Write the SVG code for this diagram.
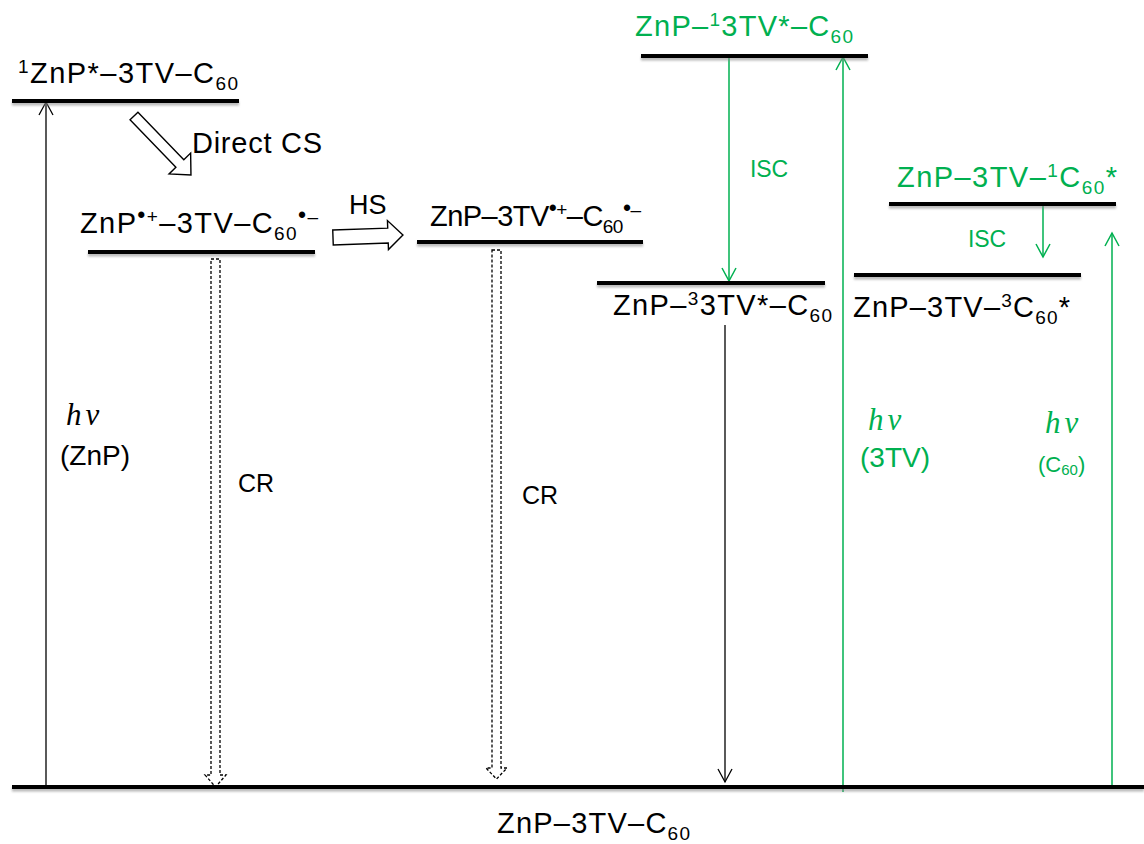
<svg xmlns="http://www.w3.org/2000/svg" width="1144" height="844" viewBox="0 0 1144 844">
<style>
  text { font-family: "Liberation Sans", Arial, sans-serif; fill: #000; }
  .lbl { font-size: 29px; }
  .g { fill: #00b050; }
  .sm { font-size: 19px; }
  .bul { font-size: 23px; }
  .hv { font-family: "Liberation Serif", "Times New Roman", serif; font-style: italic; font-size: 31px; letter-spacing: 4px; }
  .lvl { stroke: #000; stroke-width: 4; fill: none; filter: url(#sh); }
  .thin { stroke: #000; stroke-width: 1.3; fill: none; }
  .gl { stroke: #00b050; stroke-width: 1.5; fill: none; }
  .hollow { fill: #fff; stroke: #000; stroke-width: 1.4; }
  .dash { fill: none; stroke: #000; stroke-width: 1.3; stroke-dasharray: 3 2; }
</style>
<defs>
  <filter id="sh" filterUnits="userSpaceOnUse" x="0" y="0" width="1144" height="844">
    <feDropShadow dx="0" dy="2.5" stdDeviation="1.2" flood-color="#888" flood-opacity="0.6"/>
  </filter>
  <marker id="ab" markerUnits="userSpaceOnUse" markerWidth="20" markerHeight="20" viewBox="-14 -10 16 20" refX="0" refY="0" orient="auto">
    <path d="M-13,-7 L0,0 L-13,7" fill="none" stroke="#000" stroke-width="1.3"/>
  </marker>
  <marker id="ag" markerUnits="userSpaceOnUse" markerWidth="20" markerHeight="20" viewBox="-14 -10 16 20" refX="0" refY="0" orient="auto">
    <path d="M-13,-7 L0,0 L-13,7" fill="none" stroke="#00b050" stroke-width="1.5"/>
  </marker>
</defs>
<rect width="1144" height="844" fill="#fff"/>

<g id="connectors">
  <line class="thin" x1="46" y1="787" x2="46" y2="102" marker-end="url(#ab)"/>
  <g id="direct-cs-arrow" transform="translate(134,116) rotate(46)">
    <polygon class="hollow" points="0,-5.5 66,-5.5 66,-15 82,0 66,15 66,5.5 0,5.5"/>
  </g>
  <g id="hs-arrow" transform="translate(333,237.5) rotate(-2)">
    <polygon class="hollow" points="0,-7.5 55,-7.5 55,-15 70,0 55,14 55,7.5 0,7.5"/>
  </g>
  <path class="dash" d="M211,259 L220,259 L220,775 L226,775 L215.5,787 L205,775 L211,775 Z"/>
  <path class="dash" d="M492,250 L501,250 L501,768 L507,768 L496.5,779 L486,768 L492,768 Z"/>
  <line class="gl" x1="729" y1="56" x2="729" y2="281" marker-end="url(#ag)"/>
  <line class="thin" x1="725" y1="325" x2="725" y2="782" marker-end="url(#ab)"/>
  <line class="gl" x1="843" y1="792" x2="843" y2="57" marker-end="url(#ag)"/>
  <line class="gl" x1="1043" y1="204" x2="1043" y2="257" marker-end="url(#ag)"/>
  <line class="gl" x1="1112" y1="788" x2="1112" y2="233" marker-end="url(#ag)"/>
</g>

<g id="ground">
  <line class="lvl" x1="12" y1="787" x2="1144" y2="787"/>
  <text class="lbl" x="497" y="833" textLength="193">ZnP–3TV–C<tspan class="sm" dy="7">60</tspan></text>
</g>

<g id="n-1ZnP">
  <line class="lvl" x1="12" y1="101" x2="239" y2="101"/>
  <text class="lbl" x="18" y="83" textLength="220"><tspan class="sm" dy="-10">1</tspan><tspan dy="10">ZnP*–3TV–C</tspan><tspan class="sm" dy="7">60</tspan></text>
</g>

<g id="direct-cs-label">
  <text class="lbl" x="192" y="153" textLength="130">Direct CS</text>
</g>

<g id="n-cs1">
  <line class="lvl" x1="88" y1="252" x2="315" y2="252"/>
  <text class="lbl" x="80" y="233" textLength="238">ZnP<tspan class="bul" dy="-10">•</tspan><tspan class="sm">+</tspan><tspan dy="10">–3TV–C</tspan><tspan class="sm" dy="7">60</tspan><tspan class="bul" dy="-17">•</tspan><tspan class="sm">–</tspan></text>
</g>

<g id="hs-label">
  <text x="349" y="214" font-size="27">HS</text>
</g>

<g id="n-cs2">
  <line class="lvl" x1="417" y1="242" x2="643" y2="242"/>
  <text class="lbl" x="430" y="226" textLength="211">ZnP–3TV<tspan class="bul" dy="-10">•</tspan><tspan class="sm">+</tspan><tspan dy="10">–C</tspan><tspan class="sm" dy="7">60</tspan><tspan class="bul" dy="-17">•</tspan><tspan class="sm">–</tspan></text>
</g>

<g id="n-13TV">
  <line class="lvl" x1="641" y1="56" x2="868" y2="56"/>
  <text class="lbl g" x="635" y="36" textLength="218">ZnP–<tspan class="sm" dy="-10">1</tspan><tspan dy="10">3TV*–C</tspan><tspan class="sm" dy="7">60</tspan></text>
</g>

<g id="isc-label-1">
  <text class="g" x="750" y="177" font-size="23" textLength="38">ISC</text>
</g>

<g id="n-1C60">
  <line class="lvl" x1="889" y1="204" x2="1116" y2="204"/>
  <text class="lbl g" x="897" y="187" textLength="220">ZnP–3TV–<tspan class="sm" dy="-10">1</tspan><tspan dy="10">C</tspan><tspan class="sm" dy="7">60</tspan><tspan dy="-7">*</tspan></text>
</g>

<g id="isc-label-2">
  <text class="g" x="968" y="247" font-size="23" textLength="38">ISC</text>
</g>

<g id="n-33TV">
  <line class="lvl" x1="597" y1="283" x2="825" y2="283"/>
  <text class="lbl" x="613" y="315" textLength="219">ZnP–<tspan class="sm" dy="-10">3</tspan><tspan dy="10">3TV*–C</tspan><tspan class="sm" dy="7">60</tspan></text>
</g>

<g id="n-3C60">
  <line class="lvl" x1="854" y1="275" x2="1081" y2="275"/>
  <text class="lbl" x="853" y="317" textLength="217">ZnP–3TV–<tspan class="sm" dy="-10">3</tspan><tspan dy="10">C</tspan><tspan class="sm" dy="7">60</tspan><tspan dy="-7">*</tspan></text>
</g>

<g id="labels">
  <text class="hv" x="66" y="425">hν</text>
  <text x="60" y="465" font-size="28">(ZnP)</text>
  <text x="238" y="492" font-size="25">CR</text>
  <text x="522" y="504" font-size="25">CR</text>
  <text class="hv g" x="868" y="430">hν</text>
  <text class="g" x="860" y="467" font-size="28">(3TV)</text>
  <text class="hv g" x="1045" y="433">hν</text>
  <text class="g" x="1038" y="472" font-size="22">(C<tspan font-size="15" dy="3">60</tspan><tspan dy="-3">)</tspan></text>
</g>
</svg>
